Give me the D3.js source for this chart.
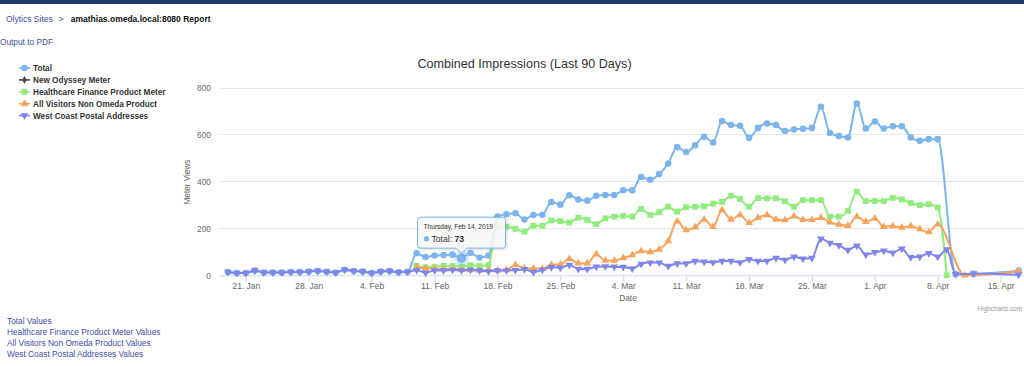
<!DOCTYPE html>
<html><head><meta charset="utf-8">
<script src="https://cdn.jsdelivr.net/npm/d3@7"></script>
<style>
body{margin:0;background:#fff;overflow:hidden}
svg{display:block}
text{font-family:"Liberation Sans",Arial,sans-serif}
</style></head><body>
<svg id="c" width="1024" height="366"></svg>
<script>
// ---------- data ----------
const startDay = "2019-01-19";
const endDay = "2019-04-17";
const seriesNames = ["Total", "New Odyssey Meter", "Healthcare Finance Product Meter", "All Visitors Non Omeda Product", "West Coast Postal Addresses"];
const seriesColors = ["#7cb5ec", "#434348", "#90ed7d", "#f7a35c", "#8085e9"];
const seriesSymbols = ["circle", "diamond", "square", "triangle", "triangleDown"];
const N = null;
const totalValues = [14,10,10,20,12,12,12,14,14,16,18,15,12,24,18,16,10,16,18,13,15,
  94,78,84,86,88,73,95,76,84,
  250,260,264,238,257,258,312,301,341,323,318,
  339,342,342,362,362,419,407,431,476,546,525,554,590,566,657,640,637,586,628,647,640,615,621,624,628,718,606,593,587,732,625,
  655,625,635,635,587,573,580,580,N,5,N,6,N,N,N,N,20];
const newOdysseyValues = [];
const healthcareValues = [N,N,N,N,N,N,N,N,N,N,N,N,N,N,N,N,N,N,N,N,N,
  40,34,36,40,40,37,43,40,44,
  207,207,198,186,211,211,234,231,225,245,236,
  218,243,250,253,250,283,257,269,292,271,290,292,294,305,313,339,325,292,329,328,328,315,292,320,320,320,250,250,274,356,316,
  316,316,330,323,308,299,303,289,0,N,N,N,N,N,N,N,N];
const allVisitorsValues = [N,N,N,N,N,N,N,N,N,N,N,N,N,N,N,N,N,N,N,N,N,
  33,30,28,26,28,24,22,20,22,
  20,23,44,30,29,28,45,46,70,51,51,
  90,63,63,74,86,103,99,110,146,230,193,205,238,207,278,238,257,224,245,257,238,235,251,237,237,245,226,216,211,250,228,
  242,207,210,204,210,197,184,217,N,N,0,N,N,N,N,N,17];
const westCoastValues = [14,10,10,20,12,12,12,14,14,16,18,15,12,24,18,16,10,16,18,13,15,
  22,11,20,20,23,20,23,20,17,
  20,21,22,26,14,23,34,32,44,27,27,
  36,38,36,35,29,48,54,54,40,50,50,61,58,55,61,61,55,68,61,61,74,65,79,71,74,156,138,128,108,126,88,
  98,105,96,113,77,79,94,79,110,4,N,8,N,N,N,N,2];
const yTicks = [0, 200, 400, 600, 800];
const xTickDays = ["2019-01-21","2019-01-28","2019-02-04","2019-02-11","2019-02-18","2019-02-25","2019-03-04","2019-03-11","2019-03-18","2019-03-25","2019-04-01","2019-04-08","2019-04-15"];
const tooltipDay = "2019-02-14";
const tooltipSeries = 0;
const bottomLinks = ["Total Values", "Healthcare Finance Product Meter Values", "All Visitors Non Omeda Product Values", "West Coast Postal Addresses Values"];

// ---------- build ----------
const parse = d3.timeParse("%Y-%m-%d");
const days = d3.timeDay.range(parse(startDay), d3.timeDay.offset(parse(endDay), 1));
const allValues = [totalValues, newOdysseyValues, healthcareValues, allVisitorsValues, westCoastValues];
const series = seriesNames.map((name, i) => ({
  name, color: seriesColors[i], symbol: seriesSymbols[i],
  points: days.map((d, j) => ({date: d, value: allValues[i][j]})).filter(p => p.value != null)
}));

const svg = d3.select("#c");
const LINK = "#3d4ea6";

// top band
svg.append("rect").attr("x", 0).attr("y", 0).attr("width", 1024).attr("height", 4).attr("fill", "#1b3a6b");

// header
const hdr = svg.append("text").attr("x", 6).attr("y", 22).attr("font-size", 8.5);
hdr.append("tspan").attr("fill", LINK).text("Olytics Sites");
hdr.append("tspan").attr("fill", "#555").attr("dx", 6).text(">");
hdr.append("tspan").attr("fill", "#111").attr("font-weight", "bold").attr("dx", 7).text("amathias.omeda.local:8080 Report");
svg.append("text").attr("x", 0).attr("y", 44.5).attr("font-size", 8.3).attr("fill", LINK).text("Output to PDF");

// bottom links
svg.selectAll("text.blink").data(bottomLinks).join("text").attr("class", "blink")
  .attr("x", 7).attr("y", (d, i) => 323.5 + i * 11).attr("font-size", 8.3).attr("fill", LINK).text(d => d);

// scales
const d0 = days[0], d1 = days[days.length - 1];
const span = d1 - d0, pad = span * 0.01;
const x = d3.scaleTime().domain([new Date(+d0 - pad), new Date(+d1 + pad)]).range([220, 1026.5]);
const y = d3.scaleLinear().domain([0, 800]).range([275.3, 87.5]);

// title
svg.append("text").attr("x", 524.5).attr("y", 68).attr("text-anchor", "middle").attr("font-size", 12.6).attr("fill", "#333")
  .text("Combined Impressions (Last 90 Days)");

// grid
const gGrid = svg.append("g");
gGrid.selectAll("line").data(yTicks.filter(t => t > 0)).join("line")
  .attr("x1", 220).attr("x2", 1026.5).attr("y1", d => Math.round(y(d)) + 0.5).attr("y2", d => Math.round(y(d)) + 0.5)
  .attr("stroke", "#e6e6e6").attr("stroke-width", 1);

// y axis labels
const yAxis = d3.axisLeft(y).tickValues(yTicks).tickSize(0).tickPadding(9);
const gy = svg.append("g").attr("transform", "translate(220,0)").call(yAxis);
gy.select(".domain").remove();
gy.selectAll("text").attr("font-size", 8.4).attr("fill", "#666").attr("font-family", "Liberation Sans, Arial").attr("dy", "0.32em");

svg.append("text").attr("transform", "translate(189.5,182) rotate(-90)").attr("text-anchor", "middle")
  .attr("font-size", 8.2).attr("fill", "#666").text("Meter Views");

// x axis
const xAxis = d3.axisBottom(x).tickValues(xTickDays.map(parse)).tickFormat(d3.timeFormat("%-d. %b")).tickSize(6).tickPadding(1.5);
const gx = svg.append("g").attr("transform", "translate(0,275.8)").call(xAxis);
gx.select(".domain").attr("stroke", "#ccd6eb").attr("d", "M220,0H1026.5");
gx.selectAll(".tick line").attr("stroke", "#ccd6eb");
gx.selectAll("text").attr("font-size", 8.5).attr("fill", "#666").attr("font-family", "Liberation Sans, Arial");
svg.append("text").attr("x", 628).attr("y", 300.5).attr("text-anchor", "middle").attr("font-size", 8.4).attr("fill", "#666").text("Date");

// credits
svg.append("text").attr("x", 1022).attr("y", 311).attr("text-anchor", "end").attr("font-size", 6.4).attr("fill", "#999").text("Highcharts.com");

// series
const symType = {circle: d3.symbolCircle, diamond: d3.symbolDiamond, square: d3.symbolSquare, triangle: d3.symbolTriangle, triangleDown: d3.symbolTriangle};
const symSize = {circle: 34, diamond: 18, square: 34, triangle: 26, triangleDown: 26};
const line = d3.line().x(p => x(p.date)).y(p => y(p.value)).curve(d3.curveMonotoneX);
function marker(sel, s, cx, cy, k) {
  return sel.append("path").attr("d", d3.symbol().type(symType[s.symbol]).size(symSize[s.symbol] * (k || 1))())
    .attr("transform", `translate(${cx},${cy})${s.symbol === "triangleDown" ? " rotate(180)" : ""}`)
    .attr("fill", s.color);
}
const gSeries = svg.append("g");
series.forEach(s => {
  const g = gSeries.append("g");
  if (s.points.length) {
    g.append("path").attr("d", line(s.points)).attr("fill", "none").attr("stroke", s.color).attr("stroke-width", 2)
      .attr("stroke-linejoin", "round").attr("stroke-linecap", "round");
  }
  s.points.forEach(p => marker(g, s, x(p.date), y(p.value)));
});

// legend
const gLeg = svg.append("g");
series.forEach((s, i) => {
  const ly = 68 + i * 11.9;
  gLeg.append("line").attr("x1", 19).attr("x2", 30).attr("y1", ly).attr("y2", ly).attr("stroke", s.color).attr("stroke-width", 1.6);
  marker(gLeg, s, 24.5, ly);
  gLeg.append("text").attr("x", 33).attr("y", ly + 3).attr("font-size", 8.2).attr("font-weight", "bold").attr("fill", "#333").text(s.name);
});

// hover halo + tooltip
const ts = series[tooltipSeries];
const tp = ts.points.find(p => +p.date === +parse(tooltipDay));
const px = x(tp.date), py = y(tp.value);
const gh = svg.append("g");
gh.append("circle").attr("cx", px).attr("cy", py).attr("r", 7.5).attr("fill", ts.color).attr("opacity", 0.3);
marker(gh, ts, px, py, 2);

const bw = 88, bh = 31, bx = px - 44, by = py - 10 - bh, r = 3;
const tipY = py - 5;
const callout = `M${bx + r},${by}H${bx + bw - r}Q${bx + bw},${by} ${bx + bw},${by + r}V${by + bh - r}Q${bx + bw},${by + bh} ${bx + bw - r},${by + bh}` +
  `H${px + 5}L${px},${tipY}L${px - 5},${by + bh}H${bx + r}Q${bx},${by + bh} ${bx},${by + bh - r}V${by + r}Q${bx},${by} ${bx + r},${by}Z`;
const gt = svg.append("g");
gt.append("path").attr("d", callout).attr("transform", "translate(1,1)").attr("fill", "none").attr("stroke", "#000").attr("stroke-opacity", 0.08).attr("stroke-width", 3);
gt.append("path").attr("d", callout).attr("fill", "rgba(247,247,247,0.88)").attr("stroke", ts.color).attr("stroke-width", 1);
gt.append("text").attr("x", bx + 6).attr("y", by + 11.5).attr("font-size", 6.6).attr("fill", "#333").text(d3.timeFormat("%A, %b %-d, %Y")(tp.date));
gt.append("circle").attr("cx", bx + 9).attr("cy", by + 21.5).attr("r", 2.6).attr("fill", ts.color);
const tt = gt.append("text").attr("x", bx + 14).attr("y", by + 24.5).attr("font-size", 8.6).attr("fill", "#333");
tt.append("tspan").text(ts.name + ": ");
tt.append("tspan").attr("font-weight", "bold").text(tp.value);
</script>
</body></html>
